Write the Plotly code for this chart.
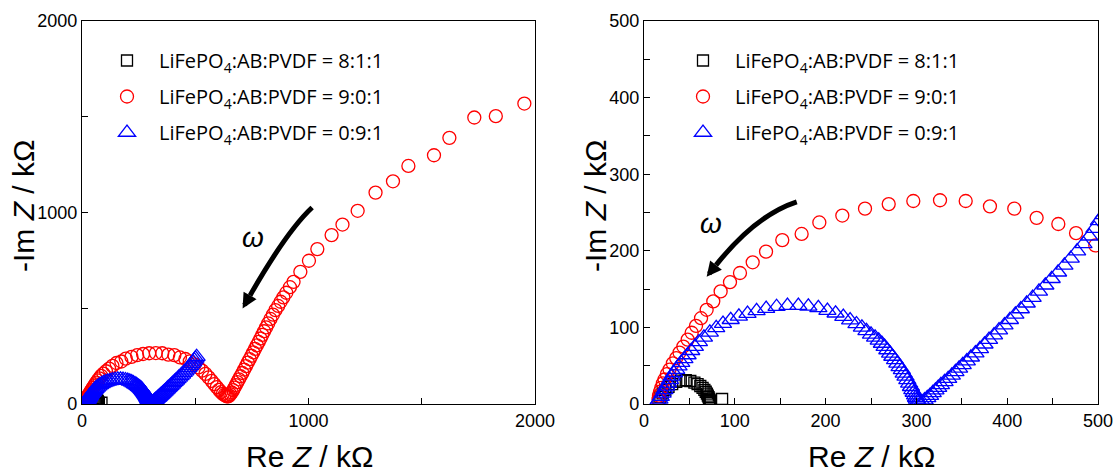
import plotly.graph_objects as go

# ---------------- data ----------------
black_x = [16, 18, 20.5, 23.5, 27, 31, 35.5, 40.5, 46, 51, 55.5, 59, 62, 64.5, 66.5, 68,
           69.3, 70.3, 71.1, 71.7, 72.2, 72.6, 72.9, 73.1, 73.3, 86]
black_y = [4, 9, 14, 18.5, 22.5, 26, 29, 30.5, 31, 30, 28, 26, 23.5, 21, 18.5, 16,
           13.5, 11, 9, 7, 5.5, 4, 3, 2, 1.2, 6.5]

red_x = [16, 16.5, 17.6, 19, 20.8, 22.6, 25.2, 28.1, 31.8, 35.5,
         39.1, 43.3, 48.1, 52.5, 57.3, 62.8, 69, 76.3, 84.4, 94.7,
         105.7, 119.7, 134.4, 152.3, 173.6, 193.1, 218.4, 243.4, 269.5, 296.6,
         326, 354.3, 381, 407.8, 432.4, 456.3, 475.8, 497, 514, 530,
         545, 559, 572, 584, 595, 605, 614, 622, 629, 635,
         640, 645, 650, 655, 661, 667, 673, 679, 686, 693,
         700, 708, 716, 724, 732, 740, 748, 756, 764, 772,
         780, 788, 796, 804, 813, 822, 832, 843, 854, 866,
         877, 889, 902, 918, 934, 964, 1002, 1039, 1102, 1150,
         1217, 1296, 1373, 1441, 1554, 1622, 1732, 1827, 1953]
red_y = [6, 11, 16, 21, 27, 32, 39, 45, 53, 60,
         67, 75, 84, 93, 102, 112, 123, 134, 147, 159,
         171, 185, 199, 214, 222, 237, 246, 255, 261, 265,
         266, 265, 258, 255, 243, 235, 223, 207, 191, 174,
         157, 139, 121, 104, 88, 74, 62, 53, 47, 43,
         40, 40, 44, 51, 60, 72, 85, 99, 114, 129,
         145, 162, 180, 198, 216, 234, 252, 270, 288, 306,
         324, 342, 361, 380, 400, 421, 444, 467, 490, 512,
         534, 557, 581, 610, 638, 690, 748, 809, 882, 937,
         1009, 1104, 1163, 1243, 1299, 1390, 1496, 1503, 1569]

blue_x = [15, 17, 18.5, 20.5, 22.5, 24.5, 26.5, 28.5, 30.5, 33,
          35.5, 38, 41, 44.5, 48, 52, 56, 60.5, 66, 72.5,
          79.5, 87, 95.5, 104.5, 114, 124, 134.5, 146, 158, 170,
          181, 192, 202, 211, 219.5, 227, 234, 240, 245, 250,
          254.5, 258.5, 262, 265, 268, 271, 273.5, 276.5, 279, 281.5,
          284, 286, 288, 290, 292, 294, 295.5, 297, 298.5, 299.5,
          300.5, 301.5, 302.5,
          306, 309, 312, 315, 318, 321, 324, 327, 331, 335,
          339, 343, 347, 351, 355.5, 360, 365, 370, 375, 380,
          385.5, 391, 397, 403, 409, 415, 421.5, 428, 435, 442,
          449, 456, 463, 470, 477, 484, 490.5, 496, 501, 506]
blue_y = [3, 6, 9.5, 14, 18.5, 23, 27, 31.5, 36, 40.5,
          45, 49.5, 54, 59, 64, 69.5, 75, 81, 87, 93.5,
          99.5, 105, 110, 114.5, 118, 121.5, 124.5, 127, 128.5, 128.5,
          127.5, 125.5, 122, 118.5, 114, 109.5, 104.5, 100, 95.5, 91,
          87, 83, 79, 75, 70.5, 66, 62, 57.5, 53, 48.5,
          44.5, 40, 36, 31.5, 27, 22.5, 18.5, 15, 11.5, 8.5,
          6, 3.5, 2,
          3, 5, 8, 11, 14.5, 18, 21.5, 25, 29, 33,
          37.5, 42, 46.5, 51, 56, 61, 66.5, 72, 78, 84,
          90, 96.5, 103, 110, 117, 124, 131.5, 139, 147, 155,
          163.5, 172, 181, 190, 199.5, 209, 219, 229, 239, 247]

series_names = ["LiFePO<sub>4</sub>:AB:PVDF = 8:1:1",
                "LiFePO<sub>4</sub>:AB:PVDF = 9:0:1",
                "LiFePO<sub>4</sub>:AB:PVDF = 0:9:1"]

left_tickvals = [0, 1000, 2000]
left_ticktext = ["0", "1000", "2000"]
left_minor = [500, 1500]
right_tickvals = [0, 100, 200, 300, 400, 500]
right_ticktext = ["0", "100", "200", "300", "400", "500"]
right_minor = [50, 150, 250, 350, 450]

x_title = "Re <i>Z</i> / kΩ"
y_title = "-Im <i>Z</i> / kΩ"

# ---------------- figure ----------------
W, H = 1115, 473


def pxx(p):
    return p / W


def pxy(p):
    return 1 - p / H


styles = [("square-open", "black", 11), ("circle-open", "red", 13), ("triangle-up-open", "blue", 15)]
data = [(black_x, black_y), (red_x, red_y), (blue_x, blue_y)]

fig = go.Figure()
for panel, (xa, ya, leg) in enumerate([("x", "y", "legend"), ("x2", "y2", "legend2")]):
    for i, ((xs, ys), (sym, col, sz), name) in enumerate(zip(data, styles, series_names)):
        fig.add_trace(go.Scatter(
            x=xs, y=ys, mode="markers", name=name,
            marker=dict(symbol=sym, size=sz, color=col, line=dict(color=col, width=1.3)),
            xaxis=xa, yaxis=ya, legend=leg, legendgroup=f"p{panel}s{i}",
        ))

tickfont = dict(family="Liberation Sans, Arial, sans-serif", size=18, color="black")
ax_common = dict(showline=True, linecolor="black", linewidth=1.3, mirror=True,
                 ticks="inside", ticklen=6, tickwidth=1.3, tickcolor="black",
                 showgrid=False, zeroline=False, tickfont=tickfont, tickmode="array",
                 automargin=False)


def minor(vals):
    return dict(tickmode="array", tickvals=vals, ticks="inside", ticklen=6,
                tickwidth=1.3, tickcolor="black", showgrid=False)


ydom = [pxy(404), pxy(21)]
legfont = dict(family="Open Sans, Noto Sans, sans-serif", size=20, color="black")
leg_common = dict(xanchor="left", yanchor="top", bgcolor="rgba(0,0,0,0)", font=legfont,
                  itemwidth=54, tracegroupgap=7, traceorder="grouped")

fig.update_layout(
    width=W, height=H, margin=dict(l=0, r=0, t=0, b=0, autoexpand=False),
    paper_bgcolor="white", plot_bgcolor="white",
    xaxis=dict(domain=[pxx(82), pxx(535)], range=[0, 2000], anchor="y",
               tickvals=left_tickvals, ticktext=left_ticktext, minor=minor(left_minor), **ax_common),
    yaxis=dict(domain=ydom, range=[0, 2000], anchor="x",
               tickvals=left_tickvals, ticktext=left_ticktext, minor=minor(left_minor), **ax_common),
    xaxis2=dict(domain=[pxx(644), pxx(1098)], range=[0, 500], anchor="y2",
                tickvals=right_tickvals, ticktext=right_ticktext, minor=minor(right_minor), **ax_common),
    yaxis2=dict(domain=ydom, range=[0, 500], anchor="x2",
                tickvals=right_tickvals, ticktext=right_ticktext, minor=minor(right_minor), **ax_common),
    legend=dict(x=pxx(95), y=pxy(41), **leg_common),
    legend2=dict(x=pxx(671), y=pxy(41), **leg_common),
    showlegend=True,
)

# curved arrows (start, control, head base, tip) in data units of each panel
arrows = [
    ("x", "y", (1016, 1026), (903, 901), (742, 567), (709, 499)),
    ("x2", "y2", (168.2, 264), (123, 246.4), (79.3, 181.3), (69, 166)),
]
shapes = []
annotations = []
for xr, yr, S, Q, E, T in arrows:
    shapes.append(dict(type="path", xref=xr, yref=yr,
                       path=f"M {S[0]},{S[1]} Q {Q[0]},{Q[1]} {E[0]},{E[1]}",
                       line=dict(color="black", width=5)))
    annotations.append(dict(x=T[0], y=T[1], ax=E[0], ay=E[1], xref=xr, yref=yr,
                            axref=xr, ayref=yr, showarrow=True, arrowhead=2,
                            arrowsize=0.6, arrowwidth=5, arrowcolor="black", text="",
                            standoff=0))

omega_font = dict(family="Liberation Sans, Arial, sans-serif", size=28, color="black")
annotations.append(dict(x=755, y=867, xref="x", yref="y", text="<i>ω</i>", showarrow=False,
                        font=omega_font))
annotations.append(dict(x=73.8, y=235, xref="x2", yref="y2", text="<i>ω</i>", showarrow=False,
                        font=omega_font))

title_font = dict(family="Liberation Sans, Arial, sans-serif", size=30, color="black")
for cx in (309, 871):
    annotations.append(dict(x=pxx(cx), y=pxy(456), xref="paper", yref="paper", text=x_title,
                            showarrow=False, font=title_font, xanchor="center", yanchor="middle"))
for cx in (23, 595):
    annotations.append(dict(x=pxx(cx), y=pxy(206), xref="paper", yref="paper", text=y_title,
                            showarrow=False, font=title_font, textangle=-90,
                            xanchor="center", yanchor="middle"))

fig.update_layout(shapes=shapes, annotations=annotations)
fig.write_html("out.html", config={"displayModeBar": False},
               post_script="document.body.style.margin='0';")
